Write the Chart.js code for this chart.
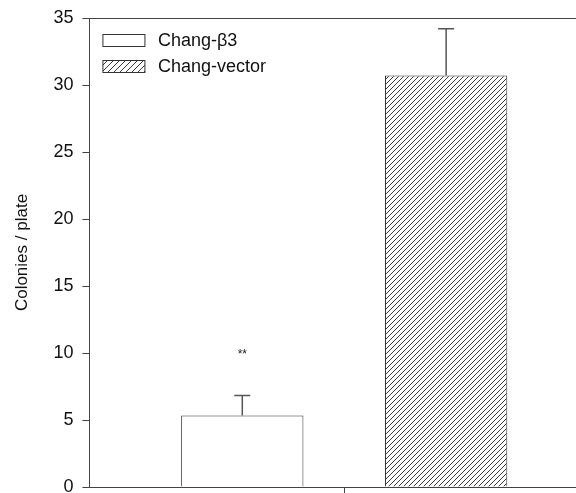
<!DOCTYPE html>
<html>
<head>
<meta charset="utf-8">
<script src="https://cdn.jsdelivr.net/npm/chart.js@4/dist/chart.umd.min.js"></script>
<style>
  html, body { margin: 0; padding: 0; background: #fff; }
  #wrap { width: 576px; height: 493px; overflow: hidden; position: relative; }
</style>
</head>
<body>
<div id="wrap"><canvas id="chart" width="620" height="505"></canvas></div>
<script>
// values
const categories = [''];
const seriesNames = ['Chang-\u03B23', 'Chang-vector'];
const means = [5.33, 30.7];
const errors = [1.5, 3.5];
const marks = ['**', ''];
const yMin = 0;
const yMax = 35;
const yStep = 5;

const font = "'Liberation Sans', Arial, sans-serif";

function makeHatch(size) {
    const c = document.createElement('canvas');
    c.width = size;
    c.height = size;
    const g = c.getContext('2d');
    g.fillStyle = '#fff';
    g.fillRect(0, 0, size, size);
    g.strokeStyle = '#3a3a3a';
    g.lineWidth = 1;
    g.beginPath();
    g.moveTo(-1, size + 1);
    g.lineTo(size + 1, -1);
    g.stroke();
    return g.createPattern(c, 'repeat');
}

const fills = ['#ffffff', makeHatch(5)];
const legendFills = ['#ffffff', makeHatch(6)];

const errorBars = {
    id: 'errorBars',
    afterDatasetsDraw(chart) {
        const ctx = chart.ctx;
        const y = chart.scales.y;
        ctx.save();
        chart.data.datasets.forEach((ds, i) => {
            const bar = chart.getDatasetMeta(i).data[0];
            const top = y.getPixelForValue(means[i] + errors[i]);
            ctx.strokeStyle = '#555';
            ctx.lineWidth = 1.5;
            ctx.beginPath();
            ctx.moveTo(bar.x, bar.y);
            ctx.lineTo(bar.x, top);
            ctx.moveTo(bar.x - 8, top);
            ctx.lineTo(bar.x + 8, top);
            ctx.stroke();
            if (marks[i]) {
                ctx.fillStyle = '#222';
                ctx.font = '12px ' + font;
                ctx.textAlign = 'center';
                ctx.textBaseline = 'middle';
                ctx.fillText(marks[i], bar.x, top - 41);
            }
        });
        ctx.restore();
    }
};

// legend drawn inside the plot, top left
const innerLegend = {
    id: 'innerLegend',
    afterDraw(chart) {
        const ctx = chart.ctx;
        const area = chart.chartArea;
        ctx.save();
        chart.data.datasets.forEach((ds, i) => {
            const bx = area.left + 13.5;
            const by = area.top + 16.5 + i * 26;
            ctx.fillStyle = legendFills[i];
            ctx.fillRect(bx, by, 42, 12);
            ctx.strokeStyle = '#333';
            ctx.lineWidth = 1;
            ctx.strokeRect(bx, by, 42, 12);
            ctx.fillStyle = '#111';
            ctx.font = '18px ' + font;
            ctx.textAlign = 'left';
            ctx.textBaseline = 'middle';
            ctx.fillText(ds.label, bx + 55, by + 7);
        });
        ctx.restore();
    }
};

new Chart(document.getElementById('chart'), {
    type: 'bar',
    data: {
        labels: categories,
        datasets: seriesNames.map((name, i) => ({
            label: name,
            data: [means[i]],
            backgroundColor: fills[i],
            borderColor: '#333',
            borderWidth: 1,
            categoryPercentage: 0.8,
            barPercentage: 0.6
        }))
    },
    options: {
        responsive: false,
        animation: false,
        layout: { padding: { top: 15, right: 21, bottom: 0, left: 12 } },
        plugins: {
            tooltip: { enabled: false },
            legend: { display: false }
        },
        scales: {
            x: {
                grid: { offset: false, drawOnChartArea: false, tickLength: 6, color: '#444' },
                border: { color: '#444', width: 1 },
                ticks: { display: false }
            },
            x2: {
                position: 'top',
                grid: { display: false, drawTicks: false },
                border: { display: true, color: '#444', width: 1 },
                ticks: { display: false }
            },
            y: {
                min: yMin,
                max: yMax,
                ticks: {
                    stepSize: yStep,
                    padding: 9,
                    color: '#111',
                    font: { family: font, size: 18, lineHeight: 1 }
                },
                grid: { drawOnChartArea: false, tickLength: 7, color: '#444' },
                border: { color: '#444', width: 1 },
                title: {
                    display: true,
                    text: 'Colonies / plate',
                    color: '#111',
                    font: { family: font, size: 17 },
                    padding: { top: 0, bottom: 12 }
                }
            }
        }
    },
    plugins: [errorBars, innerLegend]
});
</script>
</body>
</html>
